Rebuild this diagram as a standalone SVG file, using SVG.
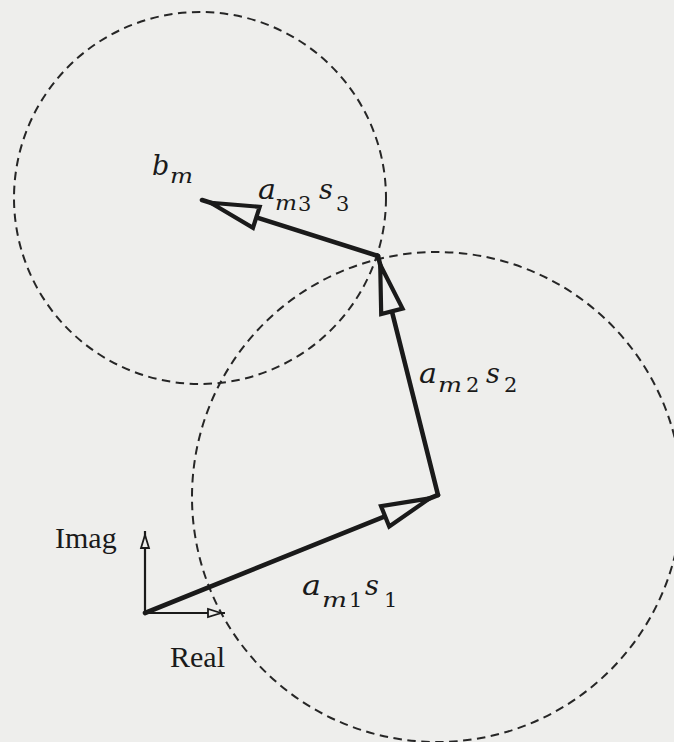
<svg xmlns="http://www.w3.org/2000/svg" width="674" height="742" viewBox="0 0 674 742">
  <style>
    .bg { fill: #eeeeec; }
    .circle { fill: none; stroke: #262626; stroke-width: 2; stroke-dasharray: 8.5 5.5; }
    .vec { fill: none; stroke: #1a1a1a; stroke-width: 4.6; stroke-linecap: round; }
    .axis { fill: none; stroke: #1a1a1a; stroke-width: 2.2; }
    .head { fill: #eeeeec; stroke: #1a1a1a; stroke-width: 4.2; stroke-linejoin: miter; stroke-miterlimit: 12; }
    .shead { fill: #eeeeec; stroke: #1a1a1a; stroke-width: 1.8; stroke-linejoin: miter; stroke-miterlimit: 12; }
    .lbl { font-family: "Liberation Serif", "Times New Roman", serif; font-size: 30px; fill: #1a1a1a; }
    .mi { font-family: "DejaVu Serif", "Liberation Serif", serif; font-style: italic; font-size: 27px; fill: #1a1a1a; }
    .sub { font-family: "DejaVu Serif", "Liberation Serif", serif; font-style: italic; font-size: 20px; fill: #1a1a1a; }
    .subn { font-family: "DejaVu Serif", "Liberation Serif", serif; font-size: 21px; fill: #1a1a1a; }
  </style>
  <defs>
    <marker id="bigHead" markerUnits="userSpaceOnUse" orient="auto" refX="0" refY="0" markerWidth="80" markerHeight="40" overflow="visible">
      <path class="head" d="M-9,0 L-57,-11 L-57,11 Z"/>
    </marker>
    <marker id="smallHead" markerUnits="userSpaceOnUse" orient="auto" refX="0" refY="0" markerWidth="30" markerHeight="14" overflow="visible">
      <path class="shead" d="M-4,0 L-17,-4 L-17,4 Z"/>
    </marker>
  </defs>
  <rect class="bg" x="0" y="0" width="674" height="742"/>

  <g id="circles">
    <circle id="circle-bm" class="circle" cx="200" cy="198" r="186"/>
    <circle id="circle-p1" class="circle" cx="437" cy="497" r="245"/>
  </g>

  <g id="connectors">
    <line id="axis-real" class="axis" x1="145" y1="613" x2="225" y2="613" marker-end="url(#smallHead)"/>
    <line id="axis-imag" class="axis" x1="145" y1="613" x2="145" y2="531" marker-end="url(#smallHead)"/>
    <line id="vec-am1s1" class="vec" x1="145" y1="613" x2="438" y2="495" marker-end="url(#bigHead)"/>
    <line id="vec-am2s2" class="vec" x1="438" y1="495" x2="378" y2="256" marker-end="url(#bigHead)"/>
    <line id="vec-am3s3" class="vec" x1="378" y1="256" x2="202" y2="200" marker-end="url(#bigHead)"/>
  </g>

  <g id="label-imag"><text class="lbl" x="55" y="548">Imag</text></g>
  <g id="label-real"><text class="lbl" x="170" y="667">Real</text></g>

  <g id="label-bm">
    <text class="mi" x="152" y="175">b</text>
    <text class="sub" x="170" y="183" textLength="23" lengthAdjust="spacingAndGlyphs">m</text>
  </g>

  <g id="label-am3s3">
    <text class="mi" x="258" y="199" textLength="18" lengthAdjust="spacingAndGlyphs">a</text>
    <text class="sub" x="275" y="210" textLength="22" lengthAdjust="spacingAndGlyphs">m</text>
    <text class="subn" x="298" y="211">3</text>
    <text class="mi" x="319" y="199">s</text>
    <text class="subn" x="336" y="211">3</text>
  </g>

  <g id="label-am2s2">
    <text class="mi" x="419" y="383" textLength="18" lengthAdjust="spacingAndGlyphs">a</text>
    <text class="sub" x="438" y="392" textLength="24" lengthAdjust="spacingAndGlyphs">m</text>
    <text class="subn" x="466" y="392">2</text>
    <text class="mi" x="486" y="383">s</text>
    <text class="subn" x="504" y="392">2</text>
  </g>

  <g id="label-am1s1">
    <text class="mi" x="302" y="595" textLength="19" lengthAdjust="spacingAndGlyphs">a</text>
    <text class="sub" x="322" y="607" textLength="25" lengthAdjust="spacingAndGlyphs">m</text>
    <text class="subn" x="349" y="607">1</text>
    <text class="mi" x="365" y="595">s</text>
    <text class="subn" x="384" y="607">1</text>
  </g>
</svg>
